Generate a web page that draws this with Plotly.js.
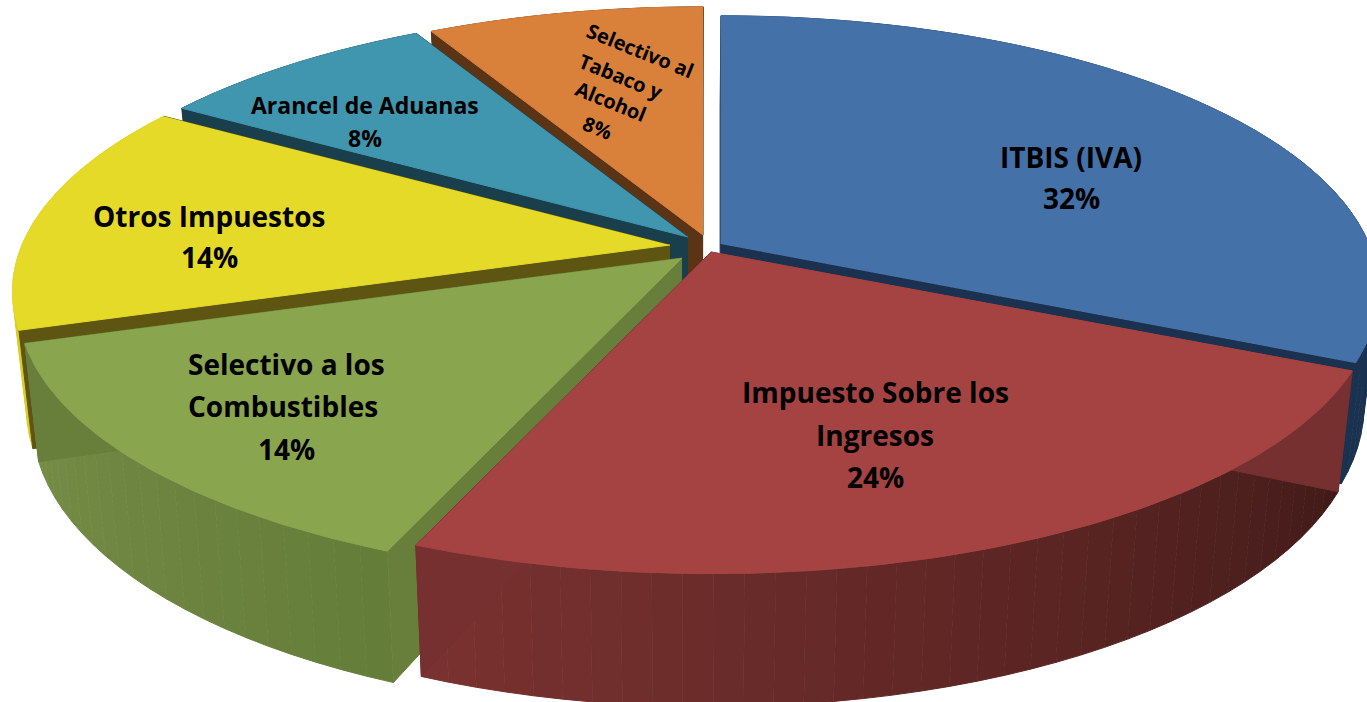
<!DOCTYPE html>
<html>
<head>
<meta charset="utf-8">
<script src="https://cdn.plot.ly/plotly-3.0.1.min.js"></script>
<style>html,body{margin:0;padding:0;background:#fff;overflow:hidden}#chart{width:1367px;height:702px}</style>
</head>
<body>
<div id="chart"></div>
<script>
// ---- data (percent of total) ----
const categories = ['ITBIS (IVA)', 'Impuesto Sobre los Ingresos', 'Selectivo a los Combustibles', 'Otros Impuestos', 'Arancel de Aduanas', 'Selectivo al Tabaco y Alcohol'];
const values = [31.8, 24.4, 13.9, 13.7, 8.2, 8.0];
const labelLines = [['ITBIS (IVA)'], ['Impuesto Sobre los', 'Ingresos'], ['Selectivo a los', 'Combustibles'], ['Otros Impuestos'], ['Arancel de Aduanas'], ['Selectivo al', 'Tabaco y', 'Alcohol']];

// ---- styles ----
const topColors  = ['#4471a8', '#a54342', '#89a54e', '#e4da27', '#3f96ae', '#d9803b'];
const faceColors = ['#1a3250', '#763030', '#677f3a', '#5f5513', '#1a3f4c', '#5b3415'];
const wallFrom   = [[26,50,80],  [122,50,48],  [118,141,72], [218,206,36], [26,63,76], [91,52,21]];
const wallTo     = [[26,50,80],  [64,26,24],   [100,125,56], [218,206,36], [26,63,76], [91,52,21]];

// ---- geometry of the exploded perspective disc ----
const apexX = [721, 711, 682, 670, 688, 703];
const apexY = [244, 252, 258, 245, 237, 235];
const radiusX = [648, 655, 654, 648, 648, 648];
const radiusY = 267, persp = 0.17, taper = 0.021, vanishX = 680;
const fontFamily = '"Open Sans", sans-serif';
const labelSizes = [28, 28, 28, 28, 23, 20];
const labelAngles = [0, 0, 0, 0, 0, 22];
const labelCentres = [
  [[1071,157],[1071,198]],
  [[875,392],[875,435],[875,477]],
  [[286,364],[283,406],[286,449]],
  [[209,216],[209,257]],
  [[365,105],[365,138]],
  [[640,50],[621,76],[611,101],[597,127]]
];

const total = values.reduce((a, b) => a + b, 0);
const starts = []; let acc = 0;
values.forEach(v => { starts.push(acc / total * 2 * Math.PI); acc += v; });

function rimTop(i, a) {
  const u = Math.sin(a), v = -Math.cos(a), d = 1 - persp * v;
  return [apexX[i] + radiusX[i] * u / d, apexY[i] + radiusY * v / d];
}
function drop(i, p, v) {
  return [p[0] + (vanishX - p[0]) * taper, p[1] + 112 + 21 * v];
}
function poly(pts, color) {
  return {type: 'scatter', mode: 'lines', x: pts.map(p => p[0]), y: pts.map(p => p[1]),
          fill: 'toself', fillcolor: color, line: {color: color, width: 1},
          hoverinfo: 'skip', showlegend: false};
}
function mix(a, b, t) {
  return 'rgb(' + a.map((c, k) => Math.round(c + (b[k] - c) * t)).join(',') + ')';
}

const traces = [];
const order = [5, 4, 3, 0, 2, 1];
order.forEach(i => {
  const a0 = starts[i], a1 = a0 + values[i] / total * 2 * Math.PI;
  const strips = Math.max(6, Math.round(values[i] * 1.6));
  // outer wall, as thin strips shaded across the sweep
  for (let s = 0; s < strips; s++) {
    const b0 = a0 + (a1 - a0) * s / strips, b1 = a0 + (a1 - a0) * (s + 1) / strips;
    const pts = [], n = 4;
    for (let k = 0; k <= n; k++) { const a = b0 + (b1 - b0) * k / n; pts.push(rimTop(i, a)); }
    for (let k = n; k >= 0; k--) { const a = b0 + (b1 - b0) * k / n; pts.push(drop(i, rimTop(i, a), -Math.cos(a))); }
    // red and green brighten towards the left end of their sweep
    const t = (i === 1 || i === 2) ? 1 - (s + 0.5) / strips : 0;
    traces.push(poly(pts, mix(wallFrom[i], wallTo[i], t)));
  }
  // the two radial cut faces
  const apex = [apexX[i], apexY[i]], apexLow = drop(i, apex, 0);
  [a0, a1].forEach(a => {
    const p = rimTop(i, a);
    traces.push(poly([apex, p, drop(i, p, -Math.cos(a)), apexLow], faceColors[i]));
  });
  // top face
  const pts = [apex]; const n = Math.round(values[i] * 4);
  for (let k = 0; k <= n; k++) pts.push(rimTop(i, a0 + (a1 - a0) * k / n));
  traces.push(poly(pts, topColors[i]));
});

const annotations = [];
categories.forEach((c, i) => {
  const lines = labelLines[i].concat([Math.round(values[i]) + '%']);
  lines.forEach((txt, j) => {
    annotations.push({x: labelCentres[i][j][0], y: labelCentres[i][j][1], xref: 'x', yref: 'y',
      text: '<b>' + txt + '</b>', showarrow: false, xanchor: 'center', yanchor: 'middle',
      textangle: labelAngles[i], font: {family: fontFamily, size: labelSizes[i], color: '#000'}});
  });
});

Plotly.newPlot('chart', traces, {
  width: 1367, height: 702, margin: {l: 0, r: 0, t: 0, b: 0},
  paper_bgcolor: '#fff', plot_bgcolor: '#fff', showlegend: false, hovermode: false,
  xaxis: {range: [0, 1367], visible: false, fixedrange: true},
  yaxis: {range: [702, 0], visible: false, fixedrange: true},
  annotations: annotations
}, {displayModeBar: false, staticPlot: true});
</script>
</body>
</html>
